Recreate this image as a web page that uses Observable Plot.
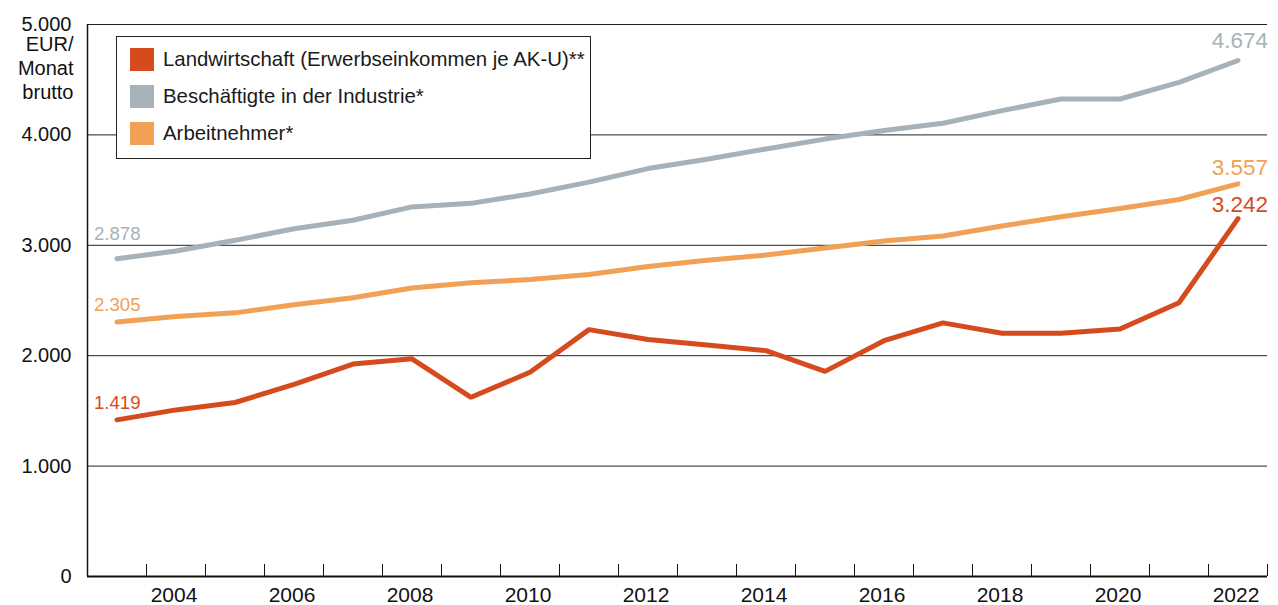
<!DOCTYPE html>
<html>
<head>
<meta charset="utf-8">
<script src="https://cdn.jsdelivr.net/npm/d3@7"></script>
<script src="https://cdn.jsdelivr.net/npm/@observablehq/plot@0.6"></script>
<style>
  html, body { margin: 0; padding: 0; background: #fff; }
  #wrap { position: relative; width: 1278px; height: 605px; font-family: "Liberation Sans", Arial, Helvetica, sans-serif; }
  #legend { position: absolute; left: 116px; top: 36px; width: 473px; height: 121px; border: 1.5px solid #222; background: #fff; }
  .row { position: absolute; left: 13px; height: 24px; display: flex; align-items: center; font-size: 20.4px; color: #1a1a1a; white-space: nowrap; }
  .sw { width: 24px; height: 23px; margin-right: 9px; }
</style>
</head>
<body>
<div id="wrap"></div>
<script>
const years = [2003,2004,2005,2006,2007,2008,2009,2010,2011,2012,2013,2014,2015,2016,2017,2018,2019,2020,2021,2022];
const landwirtschaft = [1419,1509,1576,1740,1924,1972,1623,1850,2236,2147,2097,2046,1858,2136,2297,2204,2204,2242,2480,3242];
const industrie = [2878,2948,3045,3150,3227,3348,3380,3465,3572,3695,3780,3873,3962,4040,4105,4220,4325,4325,4475,4674];
const arbeitnehmer = [2305,2355,2388,2462,2525,2613,2660,2690,2735,2808,2864,2912,2976,3039,3085,3175,3258,3333,3415,3557];

const seriesNames = ["Landwirtschaft (Erwerbseinkommen je AK-U)**", "Beschäftigte in der Industrie*", "Arbeitnehmer*"];
const seriesColors = ["#d64b1d", "#a6b2b8", "#f0a155"];

const yTicks = [0, 1000, 2000, 3000, 4000, 5000];
const yTickLabels = ["0", "1.000", "2.000", "3.000", "4.000", "5.000"];
const xLabelYears = [2004, 2006, 2008, 2010, 2012, 2014, 2016, 2018, 2020, 2022];
const unitLabel = "EUR/\nMonat\nbrutto";

const fmt = v => d3.format(",")(v).replace(/,/g, ".");
const font = '"Liberation Sans", Arial, Helvetica, sans-serif';

const mk = (vals) => years.map((y, i) => ({year: y, value: vals[i]}));
const dL = mk(landwirtschaft), dI = mk(industrie), dA = mk(arbeitnehmer);
const boundaries = years.map(y => y + 0.5);
const xLeft = years[0] - 0.5;

const plot = Plot.plot({
  width: 1278,
  height: 605,
  marginLeft: 87,
  marginRight: 11,
  marginTop: 24,
  marginBottom: 29,
  style: {fontFamily: font, background: "transparent", color: "#111"},
  x: {type: "linear", domain: [xLeft, years[years.length - 1] + 0.5]},
  y: {domain: [0, 5000]},
  marks: [
    Plot.ruleY(yTicks.filter(v => v > 0), {stroke: "#222", strokeWidth: 1}),
    Plot.axisY(yTicks, {tickSize: 0, tickPadding: 16, fontSize: 20, tickFormat: v => yTickLabels[yTicks.indexOf(v)], label: null}),
    Plot.text([unitLabel], {frameAnchor: "top-left", dx: -14, dy: 9, textAnchor: "end", lineAnchor: "top", fontSize: 20, lineHeight: 1.2, fill: "#111"}),
    Plot.axisX(boundaries, {tickSize: -12, tickFormat: () => "", label: null, stroke: "#111"}),
    Plot.axisX(xLabelYears, {tickSize: 0, tickPadding: 11, fontSize: 21, tickFormat: d => String(d), label: null, dx: -2}),
    Plot.ruleX([xLeft], {stroke: "#111", strokeWidth: 1.5}),
    Plot.ruleY([0], {stroke: "#111", strokeWidth: 2.2}),
    Plot.line(dI, {x: "year", y: "value", stroke: seriesColors[1], strokeWidth: 5, strokeLinejoin: "miter"}),
    Plot.line(dA, {x: "year", y: "value", stroke: seriesColors[2], strokeWidth: 5, strokeLinejoin: "miter"}),
    Plot.line(dL, {x: "year", y: "value", stroke: seriesColors[0], strokeWidth: 5, strokeLinejoin: "miter"}),
    // start labels
    Plot.text([dI[0]], {x: "year", y: "value", text: d => fmt(d.value), fill: seriesColors[1], fontSize: 18.6, textAnchor: "start", dx: -23, dy: -25}),
    Plot.text([dA[0]], {x: "year", y: "value", text: d => fmt(d.value), fill: seriesColors[2], fontSize: 18.6, textAnchor: "start", dx: -23, dy: -17}),
    Plot.text([dL[0]], {x: "year", y: "value", text: d => fmt(d.value), fill: seriesColors[0], fontSize: 18.6, textAnchor: "start", dx: -23, dy: -17}),
    // end labels
    Plot.text([dI[dI.length - 1]], {x: "year", y: "value", text: d => fmt(d.value), fill: seriesColors[1], fontSize: 22.5, textAnchor: "end", dx: 30, dy: -20}),
    Plot.text([dA[dA.length - 1]], {x: "year", y: "value", text: d => fmt(d.value), fill: seriesColors[2], fontSize: 22.5, textAnchor: "end", dx: 30, dy: -16}),
    Plot.text([dL[dL.length - 1]], {x: "year", y: "value", text: d => fmt(d.value), fill: seriesColors[0], fontSize: 22.5, textAnchor: "end", dx: 30, dy: -14})
  ]
});

const wrap = document.getElementById("wrap");
wrap.appendChild(plot);

const legend = document.createElement("div");
legend.id = "legend";
seriesNames.forEach((name, i) => {
  const row = document.createElement("div");
  row.className = "row";
  row.style.top = (10 + i * 37) + "px";
  const sw = document.createElement("div");
  sw.className = "sw";
  sw.style.background = seriesColors[i];
  const t = document.createElement("span");
  t.textContent = name;
  row.appendChild(sw);
  row.appendChild(t);
  legend.appendChild(row);
});
wrap.appendChild(legend);
</script>
</body>
</html>
